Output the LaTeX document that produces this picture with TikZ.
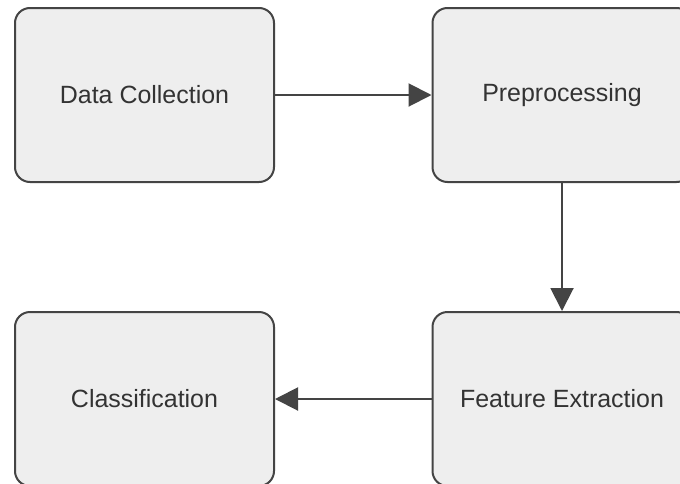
\documentclass[tikz,border=0pt]{standalone}
\usepackage{fontspec}
\setmainfont{Liberation Sans}
\usetikzlibrary{arrows.meta}

\definecolor{boxfill}{HTML}{EEEEEE}
\definecolor{boxline}{HTML}{444444}
\definecolor{txtgray}{HTML}{333333}

\tikzset{
    stage/.style={draw=boxline, fill=boxfill, line width=0.04cm, rounded corners=0.3cm,
        minimum width=5.18cm, minimum height=3.48cm, text=txtgray,
        font=\fontsize{14.2}{17}\selectfont},
    flow/.style={draw=boxline, line width=0.04cm, -{Triangle[length=0.46cm,width=0.46cm]}}
}

\begin{document}
\begin{tikzpicture}
    \path[use as bounding box, clip] (0,0) rectangle (13.6,9.66);
    \fill[white] (0,0) rectangle (13.6,9.66);
    
    \node[stage] (collect) at (2.89,7.76) {Data Collection};
    \node[stage] (prep) at (11.24,7.76) {Preprocessing};
    \node[stage] (feat) at (11.24,1.68) {Feature Extraction};
    \node[stage] (classify) at (2.89,1.68) {Classification};
    
    \draw[flow] (collect) -- (prep);
    \draw[flow] (prep) -- (feat);
    \draw[flow] (feat) -- (classify);
    
\end{tikzpicture}
\end{document}
